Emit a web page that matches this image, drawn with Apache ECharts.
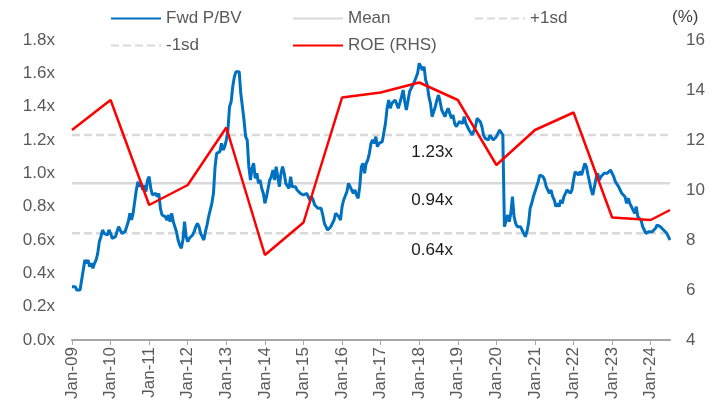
<!DOCTYPE html>
<html>
<head>
<meta charset="utf-8">
<script src="https://cdn.jsdelivr.net/npm/echarts@6/dist/echarts.min.js"></script>
<style>
  html, body { margin: 0; padding: 0; background: #fff; }
  #main { width: 710px; height: 403px; }
</style>
</head>
<body>
<div id="main"></div>
<script>
// half-monthly points, Jan-09 .. Jul-24 (index 0 = Jan-09, 24 per year)
var startYear = 2009;
var pbv = [
  0.32, 0.33, 0.32, 0.30, 0.29, 0.30, 0.36, 0.42, 0.48, 0.46, 0.48, 0.44,
  0.46, 0.43, 0.46, 0.48, 0.52, 0.59, 0.62, 0.66, 0.64, 0.64, 0.63, 0.66,
  0.64, 0.61, 0.60, 0.62, 0.65, 0.68, 0.67, 0.64, 0.63, 0.65, 0.68, 0.71,
  0.76, 0.72, 0.76, 0.83, 0.90, 0.95, 0.92, 0.94, 0.90, 0.93, 0.89, 0.96,
  0.98, 0.91, 0.87, 0.86, 0.88, 0.86, 0.88, 0.79, 0.75, 0.76, 0.74, 0.72,
  0.75, 0.71, 0.76, 0.71, 0.71, 0.65, 0.60, 0.57, 0.55, 0.60, 0.71, 0.62,
  0.59, 0.61, 0.60, 0.63, 0.65, 0.68, 0.70, 0.68, 0.64, 0.62, 0.60, 0.65,
  0.69, 0.74, 0.78, 0.82, 0.88, 1.04, 1.12, 1.11, 1.13, 1.18, 1.14, 1.16,
  1.20, 1.26, 1.40, 1.43, 1.52, 1.58, 1.61, 1.60, 1.61, 1.48, 1.40, 1.32,
  1.22, 1.20, 1.04, 0.96, 1.03, 1.06, 0.97, 1.00, 0.94, 0.96, 0.91, 0.88,
  0.82, 0.86, 0.91, 0.96, 0.98, 1.02, 0.96, 1.04, 0.98, 0.92, 1.00, 1.04,
  1.00, 0.94, 0.95, 0.91, 0.98, 0.92, 0.91, 0.92, 0.90, 0.89, 0.88, 0.89,
  0.87, 0.86, 0.88, 0.87, 0.84, 0.86, 0.84, 0.81, 0.82, 0.79, 0.78, 0.79,
  0.75, 0.70, 0.69, 0.66, 0.66, 0.68, 0.69, 0.72, 0.76, 0.77, 0.74, 0.72,
  0.80, 0.84, 0.83, 0.89, 0.94, 0.95, 0.90, 0.88, 0.90, 0.87, 0.85, 0.92,
  1.04, 1.06, 1.00, 1.06, 1.08, 1.12, 1.18, 1.20, 1.18, 1.22, 1.16, 1.18,
  1.17, 1.19, 1.20, 1.30, 1.39, 1.44, 1.39, 1.42, 1.41, 1.44, 1.44, 1.39,
  1.38, 1.46, 1.50, 1.43, 1.38, 1.39, 1.49, 1.50, 1.53, 1.55, 1.54, 1.60,
  1.66, 1.67, 1.62, 1.64, 1.56, 1.53, 1.46, 1.42, 1.34, 1.33, 1.40, 1.44,
  1.47, 1.43, 1.38, 1.38, 1.34, 1.37, 1.39, 1.36, 1.33, 1.35, 1.30, 1.28,
  1.27, 1.31, 1.32, 1.30, 1.34, 1.30, 1.30, 1.26, 1.25, 1.23, 1.24, 1.28,
  1.33, 1.33, 1.31, 1.28, 1.23, 1.21, 1.20, 1.20, 1.23, 1.23, 1.20, 1.20,
  1.22, 1.24, 1.26, 1.25, 1.23, 0.68, 0.69, 0.75, 0.71, 0.76, 0.86, 0.74,
  0.70, 0.68, 0.67, 0.68, 0.66, 0.64, 0.62, 0.65, 0.70, 0.79, 0.82, 0.86,
  0.89, 0.92, 0.95, 0.99, 1.00, 0.98, 0.96, 0.92, 0.90, 0.88, 0.90, 0.86,
  0.84, 0.80, 0.82, 0.80, 0.84, 0.82, 0.86, 0.88, 0.90, 0.89, 0.88, 0.90,
  0.96, 1.01, 1.01, 0.99, 1.01, 0.99, 1.00, 1.06, 1.04, 0.99, 1.00, 0.90,
  0.87, 0.92, 0.97, 1.00, 0.96, 0.98, 0.97, 1.00, 0.99, 1.00, 1.00, 1.02,
  1.03, 0.98, 0.95, 0.94, 0.92, 0.90, 0.88, 0.89, 0.86, 0.82, 0.85, 0.82,
  0.80, 0.81, 0.76, 0.80, 0.74, 0.75, 0.72, 0.68, 0.66, 0.64, 0.64, 0.65,
  0.64, 0.65, 0.64, 0.67, 0.69, 0.69, 0.68, 0.68, 0.66, 0.65, 0.64, 0.62,
  0.60
];
// ROE (%), annual points at the given half-month index
var roeIdx = [0, 24, 48, 72, 96, 120, 144, 168, 192, 216, 240, 264, 288, 312, 336, 360, 372];
var roeVal = [12.4, 13.6, 9.4, 10.2, 12.5, 7.4, 8.7, 13.7, 13.9, 14.3, 13.6, 11.0, 12.4, 13.1, 8.9, 8.8, 9.2];

var MEAN = 0.94, PLUS1 = 1.23, MINUS1 = 0.64;
var labelIdx = 224;

var cats = [];
var roe = [];
for (var i = 0; i < pbv.length; i++) {
  var y = startYear + Math.floor(i / 24);
  cats.push(String(y));
  roe.push(null);
}
roeIdx.forEach(function (k, j) { roe[k] = roeVal[j]; });

function flat(v) { return cats.map(function () { return v; }); }

var FONT = 'Liberation Sans';
var txt = { fontFamily: FONT, fontSize: 17, color: '#595959' };

function band(name, val, type) {
  return {
    name: name, type: 'line', data: flat(val), symbol: 'none', silent: true,
    lineStyle: { color: '#d9d9d9', width: 2.5, type: type },
    itemStyle: { color: '#d9d9d9' },
    z: 1,
    markPoint: {
      symbol: 'circle', symbolSize: 0, silent: true,
      label: {
        show: true, formatter: val.toFixed(2) + 'x', offset: [0, 17],
        fontFamily: FONT, fontSize: 17, color: '#1a1a1a'
      },
      data: [{ coord: [labelIdx, val] }]
    }
  };
}

function leg(name, left, top) {
  return {
    data: [name], left: left, top: top, itemWidth: 50, itemHeight: 14,
    itemGap: 0, padding: 0, textStyle: txt, selectedMode: false,
    itemStyle: { opacity: 0 }
  };
}

var chart = echarts.init(document.getElementById('main'));
chart.setOption({
  animation: false,
  backgroundColor: '#fff',
  textStyle: { fontFamily: FONT },
  legend: [
    leg('Fwd P/BV', 110, 10),
    leg('Mean', 292, 10),
    leg('+1sd', 474, 10),
    leg('-1sd', 110, 37),
    leg('ROE (RHS)', 292, 37)
  ],
  grid: { left: 72, right: 40, top: 40, bottom: 63 },
  xAxis: {
    type: 'category', data: cats, boundaryGap: false,
    axisLine: { lineStyle: { color: '#a6a6a6', width: 2 } },
    axisTick: {
      interval: function (i) { return i % 24 === 0; },
      length: 5, lineStyle: { color: '#a6a6a6' }
    },
    axisLabel: {
      interval: function (i) { return i % 24 === 0; },
      rotate: 90, margin: 7,
      formatter: function (v) { return 'Jan-' + v.slice(2); },
      fontFamily: FONT, fontSize: 17, color: '#595959'
    },
    splitLine: { show: false }
  },
  yAxis: [
    {
      type: 'value', min: 0, max: 1.8, interval: 0.2,
      axisLine: { show: false }, axisTick: { show: false }, splitLine: { show: false },
      axisLabel: {
        formatter: function (v) { return v.toFixed(1) + 'x'; },
        fontFamily: FONT, fontSize: 17, color: '#595959', margin: 17
      }
    },
    {
      type: 'value', min: 4, max: 16, interval: 2, position: 'right',
      name: '(%)', nameLocation: 'end', nameGap: 14,
      nameTextStyle: { fontFamily: FONT, fontSize: 17, color: '#404040', align: 'left', padding: [0, 0, 0, 2] },
      axisLine: { show: false }, axisTick: { show: false }, splitLine: { show: false },
      axisLabel: { fontFamily: FONT, fontSize: 17, color: '#595959', margin: 16 }
    }
  ],
  series: [
    band('Mean', MEAN, 'solid'),
    band('+1sd', PLUS1, [8, 4]),
    band('-1sd', MINUS1, [8, 4]),
    {
      name: 'Fwd P/BV', type: 'line', data: pbv, symbol: 'none', z: 3,
      lineStyle: { color: '#0070C0', width: 3 }, itemStyle: { color: '#0070C0' }
    },
    {
      name: 'ROE (RHS)', type: 'line', yAxisIndex: 1, data: roe, connectNulls: true,
      symbol: 'none', z: 4,
      lineStyle: { color: '#FF0000', width: 2.5 }, itemStyle: { color: '#FF0000' }
    }
  ]
});
</script>
</body>
</html>
